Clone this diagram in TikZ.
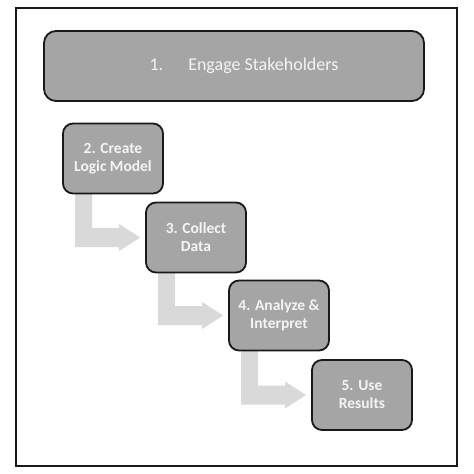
\documentclass[tikz,border=0pt]{standalone}
\usepackage{fontspec}
\setmainfont{Carlito}
\usetikzlibrary{calc,backgrounds}
\definecolor{boxgray}{HTML}{A5A5A5}
\definecolor{arrowgray}{HTML}{D9D9D9}
\definecolor{txtwhite}{HTML}{F4F4F4}
\tikzset{
  stepbox/.style={draw=black!90, line width=1.8pt, fill=boxgray, rounded corners=10pt,
    minimum width=100pt, minimum height=70pt, inner sep=0pt, align=center,
    text=txtwhite, font=\fontsize{15.5}{18}\selectfont\bfseries},
  topbox/.style={draw=black!90, line width=1.8pt, fill=boxgray, rounded corners=12pt,
    minimum width=380pt, minimum height=70pt, inner sep=0pt,
    text=txtwhite, font=\fontsize{18}{22}\selectfont},
  flowarrow/.style={fill=arrowgray, draw=none}
}
\begin{document}
\begin{tikzpicture}[x=1pt,y=-1pt]
\useasboundingbox (0,0) rectangle (474,474);
\draw[line width=2pt, black!90] (15.5,7.5) rectangle (456.5,466);
\node[topbox] (b1) at (234,66) {\hspace*{20pt}1.\hspace{25pt}Engage Stakeholders};
\node[stepbox] (b2) at (113,158.5) {2. Create\\Logic Model};
\node[stepbox] (b3) at (196,237.5) {3. Collect\\Data};
\node[stepbox] (b4) at (279,315.5) {4. Analyze \&\\Interpret};
\node[stepbox] (b5) at (362,395) {5. Use\\Results};
\begin{scope}[on background layer]
\foreach \a/\b in {b2/b3,b3/b4,b4/b5}{
  \fill[flowarrow] ($(\a.south west)+(13,-2)$) -- ($(\a.south west)+(30,-2)$)
    |- ($(\b.west)+(-26,-9.5)$) -- ($(\b.west)+(-26,-13.5)$) -- ($(\b.west)+(-5,0)$)
    -- ($(\b.west)+(-26,13.5)$) -- ($(\b.west)+(-26,9.5)$)
    -| ($(\a.south west)+(13,-2)$) -- cycle;
}
\end{scope}
\end{tikzpicture}
\end{document}
